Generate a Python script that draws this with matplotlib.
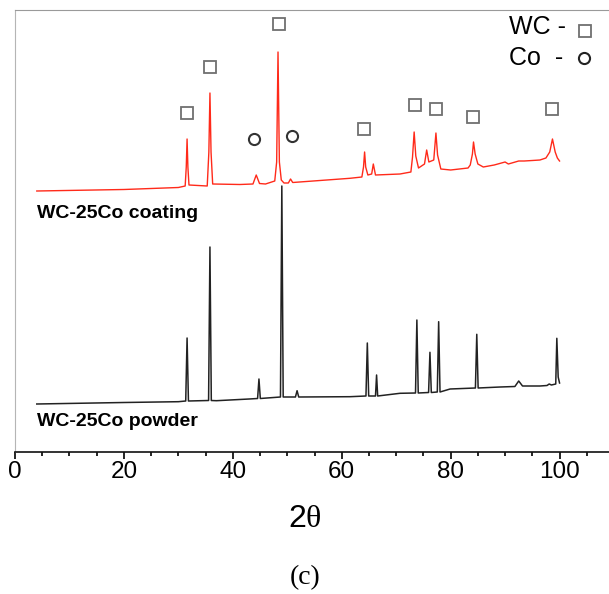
#!/usr/bin/env python3
#
import matplotlib
matplotlib.use('Agg')
import matplotlib.pyplot as plt

plt.rcParams['font.family'] = ['Liberation Sans', 'DejaVu Sans']
plt.rcParams['mathtext.fontset'] = 'custom'
plt.rcParams['mathtext.rm'] = 'Liberation Serif'
plt.rcParams['mathtext.it'] = 'Liberation Serif'

# trace vertices (2theta in degrees, intensity in a.u.)
COATING_2T = [4, 20, 30, 31.25, 31.45, 31.6, 31.75, 31.95, 35.3, 35.6, 35.8, 36.0, 36.3,
              41.3, 43.7, 44.3, 44.9, 46, 47.7, 48.05, 48.3, 48.55, 48.9, 49.4, 50.2, 50.6,
              51.0, 61.5, 63.7, 64.0, 64.2, 64.4, 64.8, 65.5, 65.8, 66.2, 70.7, 72.7, 73.0,
              73.3, 73.6, 74.1, 75.2, 75.6, 76.0, 76.9, 77.3, 77.6, 78.2, 80, 83.2, 83.6,
              84.0, 84.2, 84.5, 85.0, 86, 88, 90.0, 90.6, 92.5, 93.5, 95, 96.4, 97.5, 98.2,
              98.7, 99.2, 99.6, 100]
COATING_I = [261, 262.5, 264.5, 266, 285, 313, 285, 267, 266, 300, 359, 300, 268,
             267.5, 268, 277, 268.5, 268, 271, 290, 400, 290, 272, 269, 269, 273,
             269.5, 273.7, 275, 285, 300, 285, 277, 278, 288, 277, 278, 280, 295,
             320, 296, 284, 288, 302, 290, 292, 319, 297, 283, 282, 284, 287,
             298, 310, 298, 288, 285, 287, 290, 288, 291, 291, 291.5, 292, 294, 300,
             313, 300, 294, 291]

POWDER_2T = [4, 20, 30, 31.35, 31.6, 31.85, 35.55, 35.8, 36.05, 37, 43, 44.55, 44.8, 45.05,
             48.75, 49.0, 49.25, 51.5, 51.8, 52.1, 61.5, 64.45, 64.7, 64.95, 66.2, 66.4, 66.6,
             70.7, 73.55, 73.8, 74.05, 75.95, 76.2, 76.45, 77.55, 77.8, 78.05, 79.9, 84.55,
             84.8, 85.05, 89.1, 91.8, 92.5, 93.2, 96.4, 97.7, 98.1, 98.5, 99.3, 99.5, 99.75,
             100]
POWDER_I = [48, 49.5, 50.3, 51, 114, 51, 51.5, 205, 51.5, 51.3, 53, 53.5, 73, 53.5,
            55, 266, 55, 55, 61.3, 55, 55.3, 56, 109, 56, 56, 77, 56,
            58.7, 59, 132, 59, 59.5, 99.7, 59.5, 60, 130.3, 60, 63, 64,
            117.7, 64, 65, 65.5, 71, 66, 66, 66.5, 68, 67, 68, 113.7, 75,
            69]

# phase markers above the coating pattern
WC_2T = [31.6, 35.8, 48.4, 64.1, 73.5, 77.3, 84.1, 98.6]
WC_Y = [339, 385, 428, 323, 347, 343, 335, 343]
CO_2T = [43.9, 50.9]
CO_Y = [313, 316]

XTICKS = [0, 20, 40, 60, 80, 100]


def graph(filename):
  fig = plt.figure(figsize=(6.09, 5.94), dpi=100)
  ax = fig.add_axes([15 / 609, 142 / 594, 599 / 609, 442 / 594])
  ax.set_xlim(0, 110)
  ax.set_ylim(0, 442)

  ax.plot(COATING_2T, COATING_I, color='#ff2a1a', linewidth=1.0)
  ax.plot(POWDER_2T, POWDER_I, color='#222222', linewidth=1.1)

  ax.plot(WC_2T, WC_Y, linestyle='none', marker='s', markersize=8.5,
          markerfacecolor='white', markeredgecolor='#707070', markeredgewidth=1.3)
  ax.plot(CO_2T, CO_Y, linestyle='none', marker='o', markersize=8,
          markerfacecolor='none', markeredgecolor='#333333', markeredgewidth=1.5)

  ax.text(4, 239, 'WC-25Co coating', fontsize=14, fontweight='bold', va='center')
  ax.text(4, 30, 'WC-25Co powder', fontsize=14, fontweight='bold', va='center')

  # legend drawn by hand, as in the original
  ax.text(90.7, 425, 'WC -', fontsize=18, va='center')
  ax.text(90.7, 394, 'Co  -', fontsize=18, va='center')
  ax.plot([104.6], [421], marker='s', markersize=8.5, markerfacecolor='white',
          markeredgecolor='#707070', markeredgewidth=1.3, clip_on=False)
  ax.plot([104.4], [394], marker='o', markersize=8, markerfacecolor='none',
          markeredgecolor='#222222', markeredgewidth=1.5, clip_on=False)

  ax.set_xticks(XTICKS)
  ax.set_xticks(range(0, 111, 5), minor=True)
  ax.set_yticks([])
  ax.tick_params(axis='x', which='major', length=5, width=1.2, labelsize=17.5, pad=1.5)
  ax.tick_params(axis='x', which='minor', length=3, width=1.2)

  ax.spines['bottom'].set_color('#111111')
  ax.spines['bottom'].set_linewidth(1.2)
  ax.spines['left'].set_color('#b5b5b5')
  ax.spines['top'].set_color('#9a9a9a')
  ax.spines['right'].set_visible(False)

  fig.text(305 / 609, 1 - 519 / 594, r'2$\theta$', fontsize=23, ha='center', va='center')
  fig.text(305 / 609, 1 - 578 / 594, '(c)', fontsize=20, ha='center', va='center',
           family='Liberation Serif')

  fig.savefig(filename, dpi=100)
  plt.close(fig)
  return filename


def main():
  graph('out.png')


if __name__ == "__main__":
  main()
